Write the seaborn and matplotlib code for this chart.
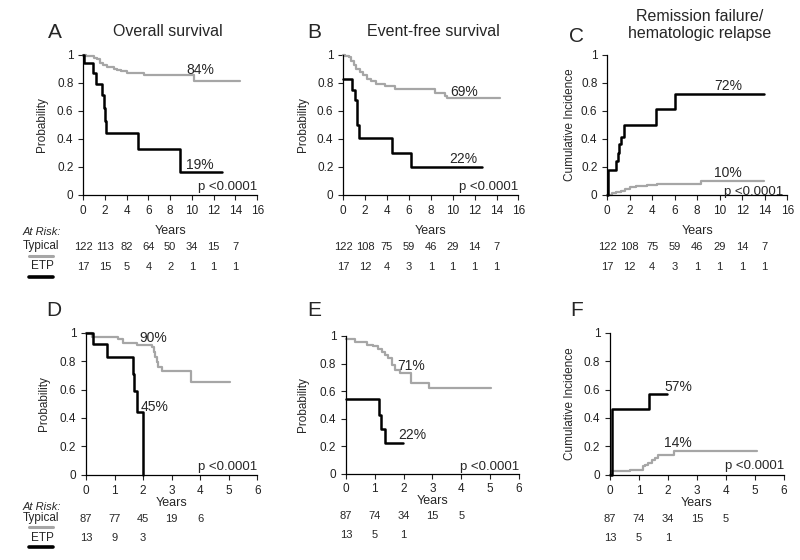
import pandas as pd
import matplotlib
matplotlib.use("Agg")
import matplotlib.pyplot as plt
import seaborn as sns
from matplotlib.lines import Line2D

# ---- data ----
# A: overall survival, all years
a_typ_t = [0, 0.3, 0.6, 0.95, 1.25, 1.55, 1.85, 2.2, 2.8, 3.1, 3.5, 4.0, 5.55, 10.15, 14.4]
a_typ_s = [1, 0.995, 0.99, 0.98, 0.97, 0.945, 0.925, 0.91, 0.9, 0.895, 0.885, 0.87, 0.855, 0.81, 0.81]
a_etp_t = [0, 0.05, 0.9, 1.17, 1.72, 1.93, 2.05, 2.1, 5.0, 8.87, 12.76]
a_etp_s = [1, 0.945, 0.87, 0.79, 0.71, 0.62, 0.53, 0.44, 0.33, 0.165, 0.165]

# B: event-free survival
b_typ_t = [0, 0.2, 0.5, 0.75, 0.95, 1.2, 1.55, 1.85, 2.15, 2.5, 2.95, 3.8, 4.75, 8.35, 9.3, 9.5, 14.3]
b_typ_s = [1, 0.995, 0.985, 0.955, 0.93, 0.9, 0.88, 0.855, 0.83, 0.81, 0.79, 0.775, 0.755, 0.73, 0.705, 0.69, 0.69]
b_etp_t = [0, 0.79, 1.1, 1.25, 1.43, 4.45, 6.19, 12.7]
b_etp_s = [0.83, 0.75, 0.68, 0.5, 0.405, 0.3, 0.2, 0.2]

# C: remission failure / hematologic relapse
c_typ_t = [0, 0.4, 0.8, 1.2, 1.6, 2.0, 2.6, 3.5, 4.4, 8.3, 13.9]
c_typ_c = [0, 0.01, 0.02, 0.03, 0.04, 0.055, 0.06, 0.07, 0.077, 0.1, 0.1]
c_etp_t = [0, 0.1, 0.8, 0.92, 1.07, 1.21, 1.51, 4.36, 5.99, 13.9]
c_etp_c = [0, 0.18, 0.24, 0.3, 0.36, 0.415, 0.5, 0.61, 0.72, 0.72]

# D: overall survival, second cohort
d_typ_t = [0, 0.2, 1.13, 1.31, 1.78, 2.3, 2.37, 2.43, 2.48, 2.54, 2.65, 3.67, 5.05]
d_typ_s = [1, 0.97, 0.955, 0.925, 0.913, 0.897, 0.867, 0.83, 0.796, 0.761, 0.733, 0.656, 0.656]
d_etp_t = [0, 0.26, 0.75, 1.63, 1.69, 1.78, 2.01]
d_etp_s = [1, 0.92, 0.83, 0.71, 0.59, 0.44, 0.0]

# E: event-free survival, second cohort
e_typ_t = [0, 0.31, 0.72, 0.95, 1.12, 1.24, 1.35, 1.47, 1.58, 1.7, 1.87, 2.24, 2.89, 5.05]
e_typ_s = [0.975, 0.957, 0.937, 0.925, 0.909, 0.885, 0.86, 0.837, 0.788, 0.752, 0.728, 0.661, 0.62, 0.62]
e_etp_t = [0, 1.14, 1.2, 1.35, 1.99]
e_etp_s = [0.54, 0.43, 0.325, 0.22, 0.22]

# F: cumulative incidence, second cohort
f_typ_t = [0, 0.05, 0.69, 1.15, 1.2, 1.32, 1.44, 1.55, 1.67, 2.2, 5.06]
f_typ_c = [0, 0.028, 0.035, 0.059, 0.07, 0.087, 0.106, 0.118, 0.14, 0.17, 0.17]
f_etp_t = [0, 0.06, 1.34, 1.95]
f_etp_c = [0, 0.46, 0.57, 0.57]

# percent labels (typical, etp)
pct_labels = {"A": ("84%", "19%"), "B": ("69%", "22%"), "C": ("10%", "72%"),
              "D": ("90%", "45%"), "E": ("71%", "22%"), "F": ("14%", "57%")}

# at-risk tables
risk_top_a_typ = [122, 113, 82, 64, 50, 34, 15, 7]
risk_top_a_etp = [17, 15, 5, 4, 2, 1, 1, 1]
risk_top_bc_typ = [122, 108, 75, 59, 46, 29, 14, 7]
risk_top_bc_etp = [17, 12, 4, 3, 1, 1, 1, 1]
risk_bot_d_typ = [87, 77, 45, 19, 6]
risk_bot_d_etp = [13, 9, 3]
risk_bot_ef_typ = [87, 74, 34, 15, 5]
risk_bot_ef_etp = [13, 5, 1]

titles = {"A": "Overall survival", "B": "Event-free survival",
          "C": "Remission failure/\nhematologic relapse"}

GREY = "#a6a6a6"
sns.set_style("ticks")
plt.rcParams["font.family"] = ["Liberation Sans", "DejaVu Sans"]

fig = plt.figure(figsize=(8, 5.6), dpi=100)


def px(x, y):
    return x / 800, 1 - y / 560


def panel(rect, typ_t, typ_v, etp_t, etp_v, xmax, xstep, ylabel, ylab_x):
    ax = fig.add_axes(rect)
    df_typ = pd.DataFrame({"t": typ_t, "v": typ_v})
    df_etp = pd.DataFrame({"t": etp_t, "v": etp_v})
    sns.lineplot(data=df_typ, x="t", y="v", ax=ax, color=GREY, linewidth=1.6,
                 drawstyle="steps-post", estimator=None, sort=False, clip_on=False)
    sns.lineplot(data=df_etp, x="t", y="v", ax=ax, color="black", linewidth=1.8,
                 drawstyle="steps-post", estimator=None, sort=False, clip_on=False)
    ax.set_xlim(0, xmax)
    ax.set_ylim(0, 1)
    ax.set_xticks(range(0, xmax + 1, xstep))
    ax.set_yticks([0, 0.2, 0.4, 0.6, 0.8, 1])
    ax.set_yticklabels(["0", "0.2", "0.4", "0.6", "0.8", "1"])
    ax.tick_params(labelsize=8.5, length=3.5, width=0.8, colors="#222222")
    for s in ["left", "bottom"]:
        ax.spines[s].set_linewidth(0.9)
        ax.spines[s].set_color("black")
    sns.despine(ax=ax)
    ax.set_ylabel(ylabel, fontsize=8.5)
    ax.yaxis.set_label_coords(ylab_x, 0.5)
    ax.set_xlabel("Years", fontsize=9)
    return ax


def risk_rows(ax, typ, etp, step, y_typ, y_etp):
    for i, n in enumerate(typ):
        ax.text(i * step, y_typ, str(n), transform=ax.get_xaxis_transform(),
                ha="center", va="center", fontsize=8, clip_on=False)
    for i, n in enumerate(etp):
        ax.text(i * step, y_etp, str(n), transform=ax.get_xaxis_transform(),
                ha="center", va="center", fontsize=8, clip_on=False)


# top row
axA = panel([0.104, 0.652, 0.2175, 0.25], a_typ_t, a_typ_s, a_etp_t, a_etp_s, 16, 2, "Probability", -0.2)
axB = panel([0.429, 0.652, 0.219, 0.25], b_typ_t, b_typ_s, b_etp_t, b_etp_s, 16, 2, "Probability", -0.194)
axC = panel([0.759, 0.652, 0.225, 0.25], c_typ_t, c_typ_c, c_etp_t, c_etp_c, 16, 2, "Cumulative Incidence", -0.172)
for ax in (axA, axB, axC):
    ax.xaxis.set_label_coords(0.5, -0.215)

# bottom row
axD = panel([0.1075, 0.152, 0.214, 0.254], d_typ_t, d_typ_s, d_etp_t, d_etp_s, 6, 1, "Probability", -0.21)
axE = panel([0.4325, 0.154, 0.216, 0.246], e_typ_t, e_typ_s, e_etp_t, e_etp_s, 6, 1, "Probability", -0.214)
axF = panel([0.7625, 0.152, 0.2175, 0.254], f_typ_t, f_typ_c, f_etp_t, f_etp_c, 6, 1, "Cumulative Incidence", -0.195)
for ax in (axD, axE, axF):
    ax.xaxis.set_label_coords(0.5, -0.155)

# percent labels and p values
lab = dict(fontsize=10, ha="center", va="center")
axA.text(10.75, 0.89, pct_labels["A"][0], **lab)
axA.text(10.75, 0.21, pct_labels["A"][1], **lab)
axB.text(11.0, 0.735, pct_labels["B"][0], **lab)
axB.text(11.0, 0.255, pct_labels["B"][1], **lab)
axC.text(10.75, 0.155, pct_labels["C"][0], **lab)
axC.text(10.75, 0.78, pct_labels["C"][1], **lab)
axD.text(2.35, 0.965, pct_labels["D"][0], **lab)
axD.text(2.4, 0.48, pct_labels["D"][1], **lab)
axE.text(2.27, 0.78, pct_labels["E"][0], **lab)
axE.text(2.3, 0.28, pct_labels["E"][1], **lab)
axF.text(2.35, 0.225, pct_labels["F"][0], **lab)
axF.text(2.35, 0.62, pct_labels["F"][1], **lab)
for ax, x, y in [(axA, 13.3, 0.057), (axB, 13.3, 0.057), (axC, 13.0, 0.02),
                 (axD, 4.95, 0.057), (axE, 5.0, 0.052), (axF, 4.97, 0.062)]:
    ax.text(x, y, "p <0.0001", fontsize=9.5, ha="center", va="center")

# at-risk numbers
risk_rows(axA, risk_top_a_typ, risk_top_a_etp, 2, -0.372, -0.515)
risk_rows(axB, risk_top_bc_typ, risk_top_bc_etp, 2, -0.372, -0.515)
risk_rows(axC, risk_top_bc_typ, risk_top_bc_etp, 2, -0.372, -0.515)
risk_rows(axD, risk_bot_d_typ, risk_bot_d_etp, 1, -0.31, -0.443)
risk_rows(axE, risk_bot_ef_typ, risk_bot_ef_etp, 1, -0.31, -0.443)
risk_rows(axF, risk_bot_ef_typ, risk_bot_ef_etp, 1, -0.31, -0.443)

# panel letters and titles
for letter, x, y in [("A", 55, 32), ("B", 314, 32), ("C", 577, 37),
                     ("D", 54, 310), ("E", 314, 310), ("F", 577, 310)]:
    fig.text(*px(x, y), letter, fontsize=15, ha="center", va="center")
fig.text(*px(168, 32), titles["A"], fontsize=11.5, ha="center", va="center")
fig.text(*px(433, 32), titles["B"], fontsize=11.5, ha="center", va="center")
fig.text(*px(700, 25), titles["C"], fontsize=11.5, ha="center", va="center", linespacing=1.1)

# at-risk legend
for y0 in (0, 275):
    fig.text(*px(42, 232 + y0), "At Risk:", fontsize=8, style="italic", ha="center", va="center")
    fig.text(*px(41, 246 + y0 - (3 if y0 else 0)), "Typical", fontsize=8.5, ha="center", va="center")
    fig.text(*px(42, 266 + y0 - (3 if y0 else 0)), "ETP", fontsize=8.5, ha="center", va="center")
    g0 = px(29, 256 + y0 - (4 if y0 else 0))
    g1 = px(53, 256 + y0 - (4 if y0 else 0))
    k0 = px(29, 277 + y0 - (5 if y0 else 0))
    k1 = px(53, 277 + y0 - (5 if y0 else 0))
    fig.add_artist(Line2D([g0[0], g1[0]], [g0[1], g1[1]], color=GREY, lw=2.2, transform=fig.transFigure))
    fig.add_artist(Line2D([k0[0], k1[0]], [k0[1], k1[1]], color="black", lw=2.6, transform=fig.transFigure))

fig.savefig("out.png", dpi=100)
